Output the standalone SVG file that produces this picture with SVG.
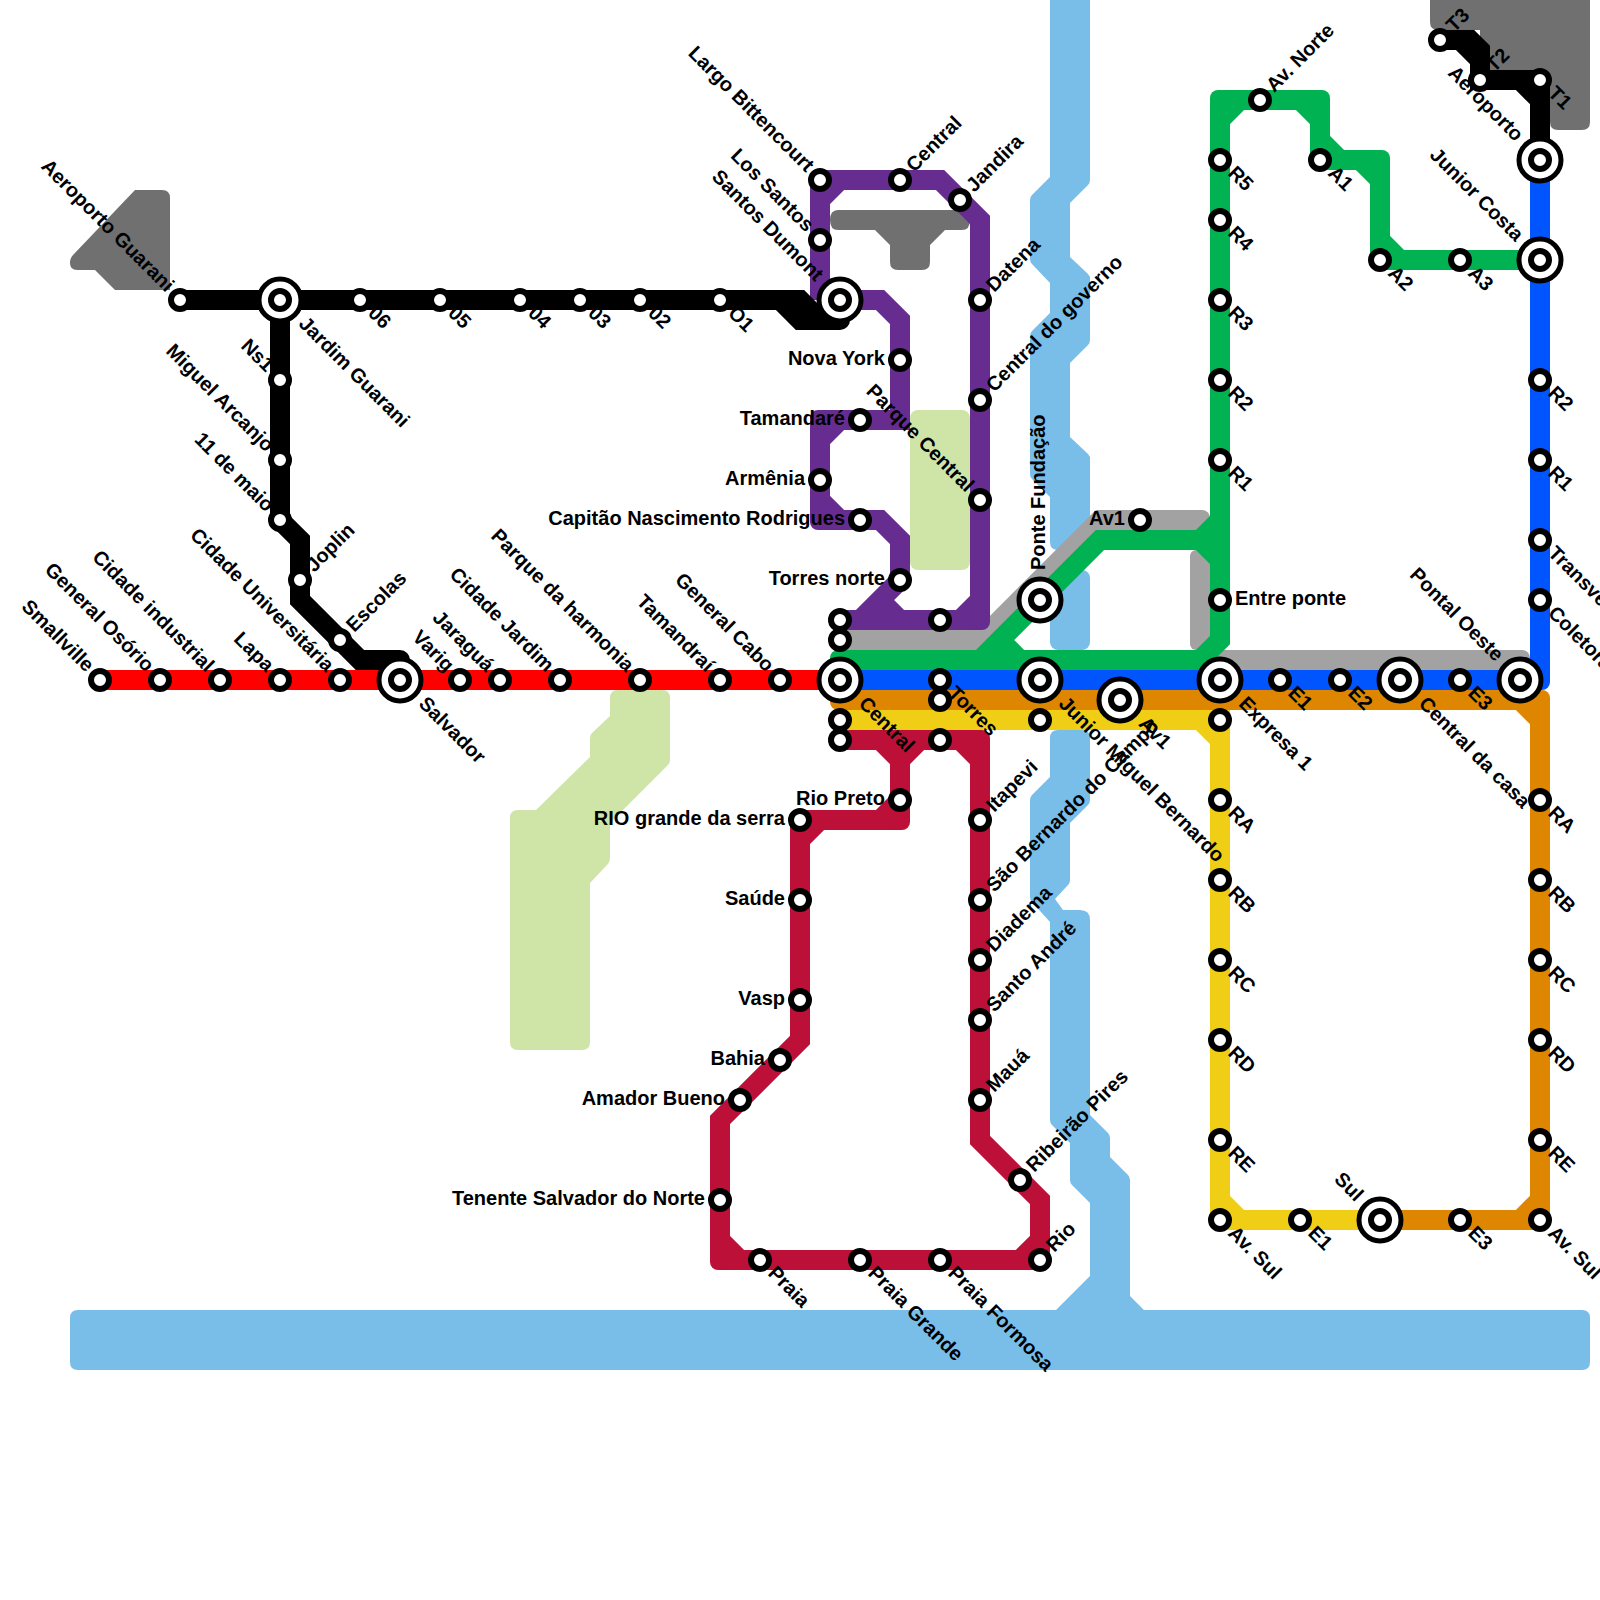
<svg xmlns="http://www.w3.org/2000/svg" width="1600" height="1600" viewBox="0 0 1600 1600">
<style>
.river{fill:#79bde9}.park{fill:#cfe4a7}.dark{fill:#707070}
path.l{fill:none;stroke-width:20;stroke-linejoin:miter;stroke-miterlimit:4;stroke-linecap:butt}
.gray{stroke:#a2a2a2;fill:#a2a2a2}.red{stroke:#ff0000}.blk{stroke:#000;fill:#000}.pur{stroke:#662c90;fill:#662c90}.grn{stroke:#00b251;fill:#00b251}.blu{stroke:#0055ff;fill:#0055ff}.org{stroke:#df8600;fill:#df8600}.yel{stroke:#f0ce15;fill:#f0ce15}.crm{stroke:#bd1038;fill:#bd1038}
g.line use{stroke:none}
circle.s{fill:#fff;stroke:#000;stroke-width:6}
circle.o{fill:#fff;stroke:#000;stroke-width:5}
text{font-family:"Liberation Sans",Arial,sans-serif;font-weight:700;font-size:20px;fill:#000}
.e{text-anchor:end}
</style>
<defs>
<circle id="st" class="s" r="9"/>
<g id="ic"><circle class="o" r="21"/><circle class="s" r="9"/></g>
<rect id="cn" x="-10" y="-10" width="20" height="20" rx="8"/>
<rect id="cw" x="-10" y="-10" width="20" height="20" rx="10"/>
</defs>
<rect width="1600" height="1600" fill="#fff"/>
<g id="land">
<path class="river" d="M1050,0V177L1032,195Q1030,197 1030,200V259Q1030,262 1032,264L1050,283V313L1032,331Q1030,333 1030,336V474Q1030,477 1032,479L1050,497V542Q1050,550 1058,550H1090V457L1088,454L1070,437V363L1088,345Q1090,343 1090,340V277L1088,274L1070,257V203L1088,185Q1090,183 1090,180V0Z"/>
<rect class="river" x="1050" y="570" width="40" height="80" rx="8"/>
<path class="river" d="M1058,730Q1050,730 1050,738V777L1032,795Q1030,797 1030,800V897Q1030,900 1032,902L1050,922V1120Q1050,1123 1052,1125L1070,1143V1180Q1070,1183 1072,1185L1090,1203V1276L1056,1310H78Q70,1310 70,1318V1362Q70,1370 78,1370H1582Q1590,1370 1590,1362V1318Q1590,1310 1582,1310H1144L1130,1296V1180Q1130,1177 1128,1175L1110,1157V1138Q1110,1135 1108,1133L1090,1115V920Q1090,910 1080,910H1063L1055,899L1068,885Q1070,883 1070,880V823L1088,805Q1090,803 1090,800V738Q1090,730 1082,730Z"/>
<rect class="park" x="910" y="410" width="60" height="160" rx="8"/>
<path class="park" d="M618,690H662Q670,690 670,698V760Q670,763 668,765L610,823V857Q610,863 606,866L590,883V1042Q590,1050 582,1050H518Q510,1050 510,1042V818Q510,810 518,810H536L590,757V738Q590,735 592,733L610,716V698Q610,690 618,690Z"/>
<path class="dark" d="M135,190H162Q170,190 170,198V290H115L95,270H77Q70,270 70,263Q70,258 73,255Z"/>
<path class="dark" d="M838,210H962Q970,210 970,220Q970,230 962,230H945L930,245V262Q930,270 922,270H898Q890,270 890,262V245L875,230H838Q830,230 830,220Q830,210 838,210Z"/>
<path class="dark" d="M1430,0H1590V122Q1590,130 1582,130H1558Q1550,130 1550,122V80H1480V30H1438Q1430,30 1430,22Z"/>
</g>
<g id="connectors">
<g class="line gray">
<path class="l gray" d="M840,640H980L1100,520H1200M1520,660H1200"/>
<use href="#cn" x="1200" y="520"/><use href="#cn" x="1520" y="660"/>
<rect x="1190" y="550" width="20" height="100" rx="6" fill="#a2a2a2" stroke="none"/>
</g>
<g class="line"><path class="l red" d="M100,680H840"/></g>
<g class="line blu">
<path class="l blu" d="M840,680H1540M1540,680V160"/>
<use href="#cn" x="1540" y="680"/>
</g>
<g class="line org">
<path class="l org" d="M840,700H1540M1540,700V1220M1540,1220H1380M1520,700L1540,720M1540,1200L1520,1220"/>
<use href="#cn" x="840" y="700"/><use href="#cn" x="1540" y="700"/><use href="#cn" x="1540" y="1220"/>
</g>
<g class="line yel">
<path class="l yel" d="M840,720H1220V1220M1220,1220H1380M1200,720L1220,740M1220,1200L1240,1220"/>
<use href="#cn" x="1220" y="1220"/>
</g>
<g class="line crm">
<path class="l crm" d="M840,740H980M980,740V1140L1040,1200V1260M1040,1260H720M720,1260V1120L800,1040V820M800,820H900M900,820V740M880,740L900,760M920,740L900,760M960,740L980,760M880,820L900,800M820,820L800,840M720,1240L740,1260M1020,1260L1040,1240"/>
<use href="#cn" x="980" y="740"/><use href="#cn" x="1040" y="1260"/><use href="#cn" x="720" y="1260"/><use href="#cn" x="800" y="820"/><use href="#cn" x="900" y="820"/>
</g>
<g class="line pur">
<path class="l pur" d="M820,300V180M820,180H940L980,220V620M980,620H840M840,180L820,200M840,300H880L900,320V420H820M820,420V520M820,520H880L900,540V580L860,620M840,420L820,440M820,500L840,520M880,600L900,620M980,600L960,620"/>
<use href="#cn" x="820" y="180"/><use href="#cn" x="980" y="620"/><use href="#cn" x="820" y="420"/><use href="#cn" x="820" y="520"/>
</g>
<g class="line grn">
<path class="l grn" d="M840,660H1200L1220,640V100M1220,100H1320M1320,100V160M1320,160H1380M1380,160V260M1380,260H1540M980,660L1100,540H1220M1000,640L1020,660M1200,540L1220,520M1200,540L1220,560M1240,100L1220,120M1300,100L1320,120M1320,140L1340,160M1360,160L1380,180M1380,240L1400,260"/>
<use href="#cn" x="840" y="660"/><use href="#cn" x="1220" y="100"/><use href="#cn" x="1320" y="100"/><use href="#cn" x="1380" y="160"/><use href="#cn" x="1380" y="260"/>
</g>
<g class="line blk">
<path class="l blk" d="M180,300H800L820,320H840M840,320V300M780,300L800,320H840M280,300V520L300,540V600L360,660H400M400,660V680M1440,40H1470L1480,50V80M1440,40H1460L1480,60V80H1540M1540,80V160M1520,80L1540,100"/>
<use href="#cw" x="840" y="320"/><use href="#cw" x="400" y="660"/><use href="#cw" x="1540" y="80"/>
</g>
</g>
<g id="stations">
<g id="smallville" transform="translate(100,680)"><use href="#st"/><text class="e" x="-15" y="5" transform="rotate(45)">Smallville</text></g>
<g id="general-osorio" transform="translate(160,680)"><use href="#st"/><text class="e" x="-15" y="5" transform="rotate(45)">General Osório</text></g>
<g id="cidade-industrial" transform="translate(220,680)"><use href="#st"/><text class="e" x="-15" y="5" transform="rotate(45)">Cidade industrial</text></g>
<g id="lapa" transform="translate(280,680)"><use href="#st"/><text class="e" x="-15" y="5" transform="rotate(45)">Lapa</text></g>
<g id="cidade-universitaria" transform="translate(340,680)"><use href="#st"/><text class="e" x="-15" y="5" transform="rotate(45)">Cidade Universitária</text></g>
<g id="salvador" transform="translate(400,680)"><use href="#ic"/><text x="30" y="5" transform="rotate(45)">Salvador</text></g>
<g id="varig" transform="translate(460,680)"><use href="#st"/><text class="e" x="-15" y="5" transform="rotate(45)">Varig</text></g>
<g id="jaragua" transform="translate(500,680)"><use href="#st"/><text class="e" x="-15" y="5" transform="rotate(45)">Jaraguá</text></g>
<g id="cidade-jardim" transform="translate(560,680)"><use href="#st"/><text class="e" x="-15" y="5" transform="rotate(45)">Cidade Jardim</text></g>
<g id="parque-harmonia" transform="translate(640,680)"><use href="#st"/><text class="e" x="-15" y="5" transform="rotate(45)">Parque da harmonia</text></g>
<g id="tamandrai" transform="translate(720,680)"><use href="#st"/><text class="e" x="-15" y="5" transform="rotate(45)">Tamandraí</text></g>
<g id="general-cabo" transform="translate(780,680)"><use href="#st"/><text class="e" x="-15" y="5" transform="rotate(45)">General Cabo</text></g>
<g id="central" transform="translate(840,680)"><use href="#ic"/><text x="30" y="5" transform="rotate(45)">Central</text></g>
<g id="aeroporto-guarani" transform="translate(180,300)"><use href="#st"/><text class="e" x="-15" y="5" transform="rotate(45)">Aeroporto Guarani</text></g>
<g id="jardim-guarani" transform="translate(280,300)"><use href="#ic"/><text x="30" y="5" transform="rotate(45)">Jardim Guarani</text></g>
<g id="s06" transform="translate(360,300)"><use href="#st"/><text x="15" y="5" transform="rotate(45)">06</text></g>
<g id="s05" transform="translate(440,300)"><use href="#st"/><text x="15" y="5" transform="rotate(45)">05</text></g>
<g id="s04" transform="translate(520,300)"><use href="#st"/><text x="15" y="5" transform="rotate(45)">04</text></g>
<g id="s03" transform="translate(580,300)"><use href="#st"/><text x="15" y="5" transform="rotate(45)">03</text></g>
<g id="s02" transform="translate(640,300)"><use href="#st"/><text x="15" y="5" transform="rotate(45)">02</text></g>
<g id="s01" transform="translate(720,300)"><use href="#st"/><text x="15" y="5" transform="rotate(45)">O1</text></g>
<g id="santos-dumont" transform="translate(840,300)"><use href="#ic"/><text class="e" x="-30" y="5" transform="rotate(45)">Santos Dumont</text></g>
<g id="ns1" transform="translate(280,380)"><use href="#st"/><text class="e" x="-15" y="5" transform="rotate(45)">Ns1</text></g>
<g id="miguel-arcanjo" transform="translate(280,460)"><use href="#st"/><text class="e" x="-15" y="5" transform="rotate(45)">Miguel Arcanjo</text></g>
<g id="onze-de-maio" transform="translate(280,520)"><use href="#st"/><text class="e" x="-15" y="5" transform="rotate(45)">11 de maio</text></g>
<g id="joplin" transform="translate(300,580)"><use href="#st"/><text x="15" y="5" transform="rotate(-45)">Joplin</text></g>
<g id="escolas" transform="translate(340,640)"><use href="#st"/><text x="15" y="5" transform="rotate(-45)">Escolas</text></g>
<g id="largo-bittencourt" transform="translate(820,180)"><use href="#st"/><text class="e" x="-15" y="5" transform="rotate(45)">Largo Bittencourt</text></g>
<g id="los-santos" transform="translate(820,240)"><use href="#st"/><text class="e" x="-15" y="5" transform="rotate(45)">Los Santos</text></g>
<g id="central-purple" transform="translate(900,180)"><use href="#st"/><text x="15" y="5" transform="rotate(-45)">Central</text></g>
<g id="jandira" transform="translate(960,200)"><use href="#st"/><text x="15" y="5" transform="rotate(-45)">Jandira</text></g>
<g id="datena" transform="translate(980,300)"><use href="#st"/><text x="15" y="5" transform="rotate(-45)">Datena</text></g>
<g id="central-governo" transform="translate(980,400)"><use href="#st"/><text x="15" y="5" transform="rotate(-45)">Central do governo</text></g>
<g id="parque-central" transform="translate(980,500)"><use href="#st"/><text class="e" x="-15" y="5" transform="rotate(45)">Parque Central</text></g>
<g id="nova-york" transform="translate(900,360)"><use href="#st"/><text class="e" x="-15" y="5">Nova York</text></g>
<g id="tamandare" transform="translate(860,420)"><use href="#st"/><text class="e" x="-15" y="5">Tamandaré</text></g>
<g id="armenia" transform="translate(820,480)"><use href="#st"/><text class="e" x="-15" y="5">Armênia</text></g>
<g id="capitao" transform="translate(860,520)"><use href="#st"/><text class="e" x="-15" y="5">Capitão Nascimento Rodrigues</text></g>
<g id="torres-norte" transform="translate(900,580)"><use href="#st"/><text class="e" x="-15" y="5">Torres norte</text></g>
<g id="p1" transform="translate(840,620)"><use href="#st"/></g>
<g id="p2" transform="translate(840,640)"><use href="#st"/></g>
<g id="p3" transform="translate(940,620)"><use href="#st"/></g>
<g id="torres" transform="translate(940,680)"><use href="#st"/><text x="15" y="5" transform="rotate(45)">Torres</text></g>
<g id="p4" transform="translate(940,700)"><use href="#st"/></g>
<g id="p5" transform="translate(940,740)"><use href="#st"/></g>
<g id="p6" transform="translate(840,720)"><use href="#st"/></g>
<g id="p7" transform="translate(840,740)"><use href="#st"/></g>
<g id="p8" transform="translate(1040,720)"><use href="#st"/></g>
<g id="p9" transform="translate(1220,720)"><use href="#st"/></g>
<g id="ponte-fundacao" transform="translate(1040,600)"><use href="#ic"/><text x="30" y="5" transform="rotate(-90)">Ponte Fundação</text></g>
<g id="junior-miguel" transform="translate(1040,680)"><use href="#ic"/><text x="30" y="5" transform="rotate(45)">Junior Miguel Bernardo</text></g>
<g id="av1-interchange" transform="translate(1120,700)"><use href="#ic"/><text x="30" y="5" transform="rotate(45)">Av1</text></g>
<g id="av1" transform="translate(1140,520)"><use href="#st"/><text class="e" x="-15" y="5">Av1</text></g>
<g id="expresa-1" transform="translate(1220,680)"><use href="#ic"/><text x="30" y="5" transform="rotate(45)">Expresa 1</text></g>
<g id="e1" transform="translate(1280,680)"><use href="#st"/><text x="15" y="5" transform="rotate(45)">E1</text></g>
<g id="e2" transform="translate(1340,680)"><use href="#st"/><text x="15" y="5" transform="rotate(45)">E2</text></g>
<g id="central-casa" transform="translate(1400,680)"><use href="#ic"/><text x="30" y="5" transform="rotate(45)">Central da casa</text></g>
<g id="e3" transform="translate(1460,680)"><use href="#st"/><text x="15" y="5" transform="rotate(45)">E3</text></g>
<g id="pontal-oeste" transform="translate(1520,680)"><use href="#ic"/><text class="e" x="-30" y="5" transform="rotate(45)">Pontal Oeste</text></g>
<g id="entre-ponte" transform="translate(1220,600)"><use href="#st"/><text x="15" y="5">Entre ponte</text></g>
<g id="g-r1" transform="translate(1220,460)"><use href="#st"/><text x="15" y="5" transform="rotate(45)">R1</text></g>
<g id="g-r2" transform="translate(1220,380)"><use href="#st"/><text x="15" y="5" transform="rotate(45)">R2</text></g>
<g id="g-r3" transform="translate(1220,300)"><use href="#st"/><text x="15" y="5" transform="rotate(45)">R3</text></g>
<g id="g-r4" transform="translate(1220,220)"><use href="#st"/><text x="15" y="5" transform="rotate(45)">R4</text></g>
<g id="g-r5" transform="translate(1220,160)"><use href="#st"/><text x="15" y="5" transform="rotate(45)">R5</text></g>
<g id="av-norte" transform="translate(1260,100)"><use href="#st"/><text x="15" y="5" transform="rotate(-45)">Av. Norte</text></g>
<g id="a1" transform="translate(1320,160)"><use href="#st"/><text x="15" y="5" transform="rotate(45)">A1</text></g>
<g id="a2" transform="translate(1380,260)"><use href="#st"/><text x="15" y="5" transform="rotate(45)">A2</text></g>
<g id="a3" transform="translate(1460,260)"><use href="#st"/><text x="15" y="5" transform="rotate(45)">A3</text></g>
<g id="junior-costa" transform="translate(1540,260)"><use href="#ic"/><text class="e" x="-30" y="5" transform="rotate(45)">Junior Costa</text></g>
<g id="aeroporto" transform="translate(1540,160)"><use href="#ic"/><text class="e" x="-30" y="5" transform="rotate(45)">Aeroporto</text></g>
<g id="t1" transform="translate(1540,80)"><use href="#st"/><text x="15" y="5" transform="rotate(45)">T1</text></g>
<g id="t2" transform="translate(1480,80)"><use href="#st"/><text x="15" y="5" transform="rotate(-45)">T2</text></g>
<g id="t3" transform="translate(1440,40)"><use href="#st"/><text x="15" y="5" transform="rotate(-45)">T3</text></g>
<g id="b-r2" transform="translate(1540,380)"><use href="#st"/><text x="15" y="5" transform="rotate(45)">R2</text></g>
<g id="b-r1" transform="translate(1540,460)"><use href="#st"/><text x="15" y="5" transform="rotate(45)">R1</text></g>
<g id="transversal" transform="translate(1540,540)"><use href="#st"/><text x="15" y="5" transform="rotate(45)">Transversal</text></g>
<g id="coletor" transform="translate(1540,600)"><use href="#st"/><text x="15" y="5" transform="rotate(45)">Coletora</text></g>
<g id="o-ra" transform="translate(1540,800)"><use href="#st"/><text x="15" y="5" transform="rotate(45)">RA</text></g>
<g id="o-rb" transform="translate(1540,880)"><use href="#st"/><text x="15" y="5" transform="rotate(45)">RB</text></g>
<g id="o-rc" transform="translate(1540,960)"><use href="#st"/><text x="15" y="5" transform="rotate(45)">RC</text></g>
<g id="o-rd" transform="translate(1540,1040)"><use href="#st"/><text x="15" y="5" transform="rotate(45)">RD</text></g>
<g id="o-re" transform="translate(1540,1140)"><use href="#st"/><text x="15" y="5" transform="rotate(45)">RE</text></g>
<g id="o-av-sul" transform="translate(1540,1220)"><use href="#st"/><text x="15" y="5" transform="rotate(45)">Av. Sul</text></g>
<g id="o-e3" transform="translate(1460,1220)"><use href="#st"/><text x="15" y="5" transform="rotate(45)">E3</text></g>
<g id="sul" transform="translate(1380,1220)"><use href="#ic"/><text class="e" x="-30" y="5" transform="rotate(45)">Sul</text></g>
<g id="y-e1" transform="translate(1300,1220)"><use href="#st"/><text x="15" y="5" transform="rotate(45)">E1</text></g>
<g id="y-av-sul" transform="translate(1220,1220)"><use href="#st"/><text x="15" y="5" transform="rotate(45)">Av. Sul</text></g>
<g id="y-re" transform="translate(1220,1140)"><use href="#st"/><text x="15" y="5" transform="rotate(45)">RE</text></g>
<g id="y-rd" transform="translate(1220,1040)"><use href="#st"/><text x="15" y="5" transform="rotate(45)">RD</text></g>
<g id="y-rc" transform="translate(1220,960)"><use href="#st"/><text x="15" y="5" transform="rotate(45)">RC</text></g>
<g id="y-rb" transform="translate(1220,880)"><use href="#st"/><text x="15" y="5" transform="rotate(45)">RB</text></g>
<g id="y-ra" transform="translate(1220,800)"><use href="#st"/><text x="15" y="5" transform="rotate(45)">RA</text></g>
<g id="rio-preto" transform="translate(900,800)"><use href="#st"/><text class="e" x="-15" y="5">Rio Preto</text></g>
<g id="rio-grande" transform="translate(800,820)"><use href="#st"/><text class="e" x="-15" y="5">RIO grande da serra</text></g>
<g id="saude" transform="translate(800,900)"><use href="#st"/><text class="e" x="-15" y="5">Saúde</text></g>
<g id="vasp" transform="translate(800,1000)"><use href="#st"/><text class="e" x="-15" y="5">Vasp</text></g>
<g id="bahia" transform="translate(780,1060)"><use href="#st"/><text class="e" x="-15" y="5">Bahia</text></g>
<g id="amador-bueno" transform="translate(740,1100)"><use href="#st"/><text class="e" x="-15" y="5">Amador Bueno</text></g>
<g id="tenente" transform="translate(720,1200)"><use href="#st"/><text class="e" x="-15" y="5">Tenente Salvador do Norte</text></g>
<g id="praia" transform="translate(760,1260)"><use href="#st"/><text x="15" y="5" transform="rotate(45)">Praia</text></g>
<g id="praia-grande" transform="translate(860,1260)"><use href="#st"/><text x="15" y="5" transform="rotate(45)">Praia Grande</text></g>
<g id="praia-formosa" transform="translate(940,1260)"><use href="#st"/><text x="15" y="5" transform="rotate(45)">Praia Formosa</text></g>
<g id="rio" transform="translate(1040,1260)"><use href="#st"/><text x="15" y="5" transform="rotate(-45)">Rio</text></g>
<g id="ribeirao-pires" transform="translate(1020,1180)"><use href="#st"/><text x="15" y="5" transform="rotate(-45)">Ribeirão Pires</text></g>
<g id="maua" transform="translate(980,1100)"><use href="#st"/><text x="15" y="5" transform="rotate(-45)">Mauá</text></g>
<g id="santo-andre" transform="translate(980,1020)"><use href="#st"/><text x="15" y="5" transform="rotate(-45)">Santo André</text></g>
<g id="diadema" transform="translate(980,960)"><use href="#st"/><text x="15" y="5" transform="rotate(-45)">Diadema</text></g>
<g id="sao-bernardo" transform="translate(980,900)"><use href="#st"/><text x="15" y="5" transform="rotate(-45)">São Bernardo do Campo</text></g>
<g id="itapevi" transform="translate(980,820)"><use href="#st"/><text x="15" y="5" transform="rotate(-45)">Itapevi</text></g>
</g>
</svg>
